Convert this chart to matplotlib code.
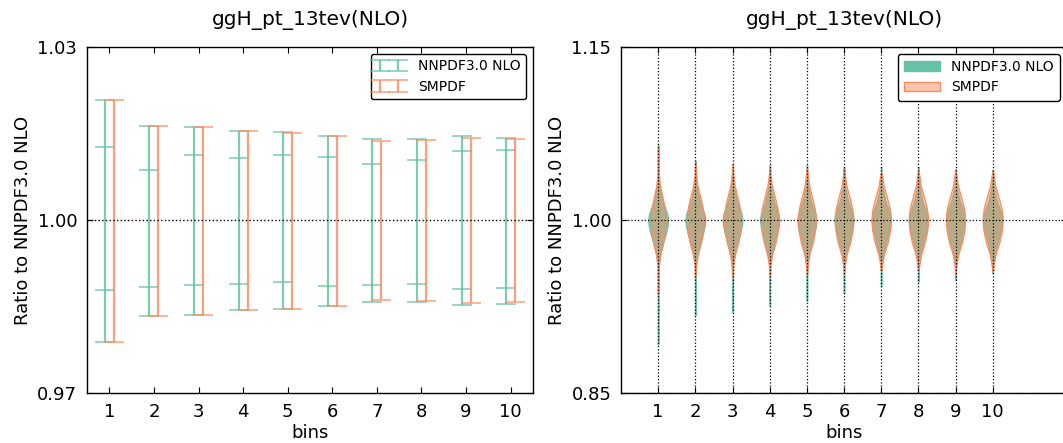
import matplotlib
matplotlib.use("Agg")
import matplotlib.pyplot as plt
from matplotlib.patches import Patch
from matplotlib.legend_handler import HandlerErrorbar
from matplotlib.container import ErrorbarContainer
import numpy as np

plt.rcParams['font.family'] = ['DejaVu Sans']

title = "ggH_pt_13tev(NLO)"
ylabel = "Ratio to NNPDF3.0 NLO"
xlabel = "bins"
labels = ["NNPDF3.0 NLO", "SMPDF"]
bins = [1, 2, 3, 4, 5, 6, 7, 8, 9, 10]

# ---- left panel: error bars ----
nn_lo = [0.9789, 0.98335, 0.98353, 0.98434, 0.98462, 0.98509, 0.98584, 0.98572, 0.98526, 0.98549]
nn_hi = [1.0208, 1.01636, 1.01618, 1.01549, 1.0152, 1.01462, 1.0140, 1.01405, 1.01451, 1.01428]
nn_in_lo = [0.98786, 0.98833, 0.98867, 0.98884, 0.9892, 0.98850, 0.98879, 0.98896, 0.98804, 0.98821]
nn_in_hi = [1.0127, 1.00861, 1.01121, 1.0107, 1.01133, 1.01098, 1.00965, 1.01035, 1.01191, 1.01214]
sm_lo = [0.9789, 0.98335, 0.98353, 0.98434, 0.98462, 0.98509, 0.98607, 0.98595, 0.98555, 0.98578]
sm_hi = [1.0208, 1.01636, 1.0161, 1.0154, 1.0151, 1.0145, 1.01376, 1.01382, 1.01428, 1.01405]

# ---- right panel: violins ----
nn_top = [1.0650, 1.0512, 1.0480, 1.0474, 1.0474, 1.0457, 1.0460, 1.0460, 1.0440, 1.0434]
nn_bot = [0.8925, 0.9176, 0.9205, 0.9257, 0.9300, 0.9364, 0.9428, 0.9465, 0.9480, 0.9538]
sm_top = [1.0630, 1.0492, 1.0486, 1.0462, 1.0448, 1.0448, 1.0405, 1.0419, 1.0434, 1.0419]
sm_bot = [0.9364, 0.9509, 0.9503, 0.9523, 0.9538, 0.9552, 0.9566, 0.9566, 0.9538, 0.9566]
nn_halfw = [0.27, 0.27, 0.27, 0.26, 0.26, 0.26, 0.26, 0.26, 0.26, 0.26]
sm_halfw = [0.20, 0.23, 0.23, 0.24, 0.24, 0.25, 0.26, 0.26, 0.26, 0.27]
prof_levels = [0.04, 0.03, 0.02, 0.015, 0.01, 0.005, 0.0, -0.005, -0.01, -0.015, -0.02, -0.03, -0.04]
nn_prof = [0.03, 0.10, 0.35, 0.50, 0.72, 0.92, 1.0, 0.94, 0.82, 0.66, 0.50, 0.20, 0.05]
sm_prof = [0.08, 0.25, 0.58, 0.74, 0.88, 0.97, 1.0, 0.97, 0.90, 0.78, 0.65, 0.28, 0.08]
tail_w = 0.05

GREEN = '#66c2a5'
ORANGE = '#fc8d62'
ORANGE_RGB = (252 / 255, 141 / 255, 98 / 255)
GREEN_RGB = (102 / 255, 194 / 255, 165 / 255)

fig = plt.figure(figsize=(10.63, 4.43), dpi=100)
W, H = 1063.0, 443.0
ax1 = fig.add_axes([87 / W, 50 / H, 446 / W, 346 / H])
ax2 = fig.add_axes([621 / W, 50 / H, 446 / W, 346 / H])

for ax in (ax1, ax2):
    ax.tick_params(direction='in', top=True, right=True, length=4, width=0.8,
                   labelsize=13, pad=7)
    for s in ax.spines.values():
        s.set_linewidth(1.0)
    ax.set_title(title, fontsize=14.5, pad=16)
    ax.set_ylabel(ylabel, fontsize=13)
    ax.set_xlabel(xlabel, fontsize=13, labelpad=2)
    ax.set_xticks(bins)

# left
x = np.array(bins, dtype=float)
xg = x - 0.1
xo = x + 0.1
nn_lo_a, nn_hi_a = np.array(nn_lo), np.array(nn_hi)
sm_lo_a, sm_hi_a = np.array(sm_lo), np.array(sm_hi)
nn_mid = (nn_lo_a + nn_hi_a) / 2
sm_mid = (sm_lo_a + sm_hi_a) / 2
cap = 7.2
eg = ax1.errorbar(xg, nn_mid, yerr=[nn_mid - nn_lo_a, nn_hi_a - nn_mid], fmt='none',
                  ecolor=GREEN, elinewidth=1.6, capsize=cap, capthick=1.1, alpha=0.85,
                  label=labels[0])
ax1.plot(xg, nn_in_hi, ls='none', marker='_', ms=2 * cap, mew=1.1, color=GREEN, alpha=0.85)
ax1.plot(xg, nn_in_lo, ls='none', marker='_', ms=2 * cap, mew=1.1, color=GREEN, alpha=0.85)
eo = ax1.errorbar(xo, sm_mid, yerr=[sm_mid - sm_lo_a, sm_hi_a - sm_mid], fmt='none',
                  ecolor=ORANGE, elinewidth=1.6, capsize=cap, capthick=1.1, alpha=0.85,
                  label=labels[1])
ax1.axhline(1.0, color='k', ls=':', lw=1.0)
ax1.set_xlim(0.5, 10.5)
ax1.set_ylim(0.97, 1.03)
ax1.set_yticks([0.97, 1.00, 1.03])
ax1.set_yticklabels(["%.2f" % v for v in [0.97, 1.00, 1.03]])
ax1.legend(loc='upper right', numpoints=2, fontsize=10, fancybox=True,
           handlelength=1.9, borderpad=0.4, labelspacing=0.45,
           handletextpad=1.1, edgecolor='k', framealpha=1.0, borderaxespad=0.5,
           handler_map={ErrorbarContainer: HandlerErrorbar(xerr_size=0.5, yerr_size=0.42)})


def build_stats(tops, bots, prof):
    stats = []
    for t, b in zip(tops, bots):
        coords = [b]
        vals = [tail_w]
        for lv, pv in zip(prof_levels[::-1], prof[::-1]):
            c = 1.0 + lv
            if b < c < t:
                coords.append(c)
                vals.append(pv)
        coords.append(t)
        vals.append(tail_w)
        stats.append(dict(coords=np.array(coords), vals=np.array(vals),
                          mean=1.0, median=1.0, min=b, max=t))
    return stats


vg = ax2.violin(build_stats(nn_top, nn_bot, nn_prof), positions=bins,
                widths=[2 * w for w in nn_halfw], showmeans=False,
                showextrema=False, showmedians=False)
for body in vg['bodies']:
    body.set_alpha(None)
    body.set_facecolor(GREEN_RGB + (0.9,))
    body.set_edgecolor(GREEN_RGB + (1.0,))
    body.set_linewidth(0.8)
vo = ax2.violin(build_stats(sm_top, sm_bot, sm_prof), positions=bins,
                widths=[2 * w for w in sm_halfw], showmeans=False,
                showextrema=False, showmedians=False)
for body in vo['bodies']:
    body.set_alpha(None)
    body.set_facecolor(ORANGE_RGB + (0.5,))
    body.set_edgecolor(ORANGE_RGB + (1.0,))
    body.set_linewidth(0.9)

ax2.set_axisbelow(False)
ax2.grid(True, color='k', ls=':', lw=0.9)
ax2.set_xlim(0, 12)
ax2.set_ylim(0.85, 1.15)
ax2.set_yticks([0.85, 1.00, 1.15])
ax2.set_yticklabels(["%.2f" % v for v in [0.85, 1.00, 1.15]])
handles = [Patch(facecolor=GREEN, edgecolor=GREEN),
           Patch(facecolor=ORANGE_RGB + (0.5,), edgecolor=ORANGE)]
leg2 = ax2.legend(handles, labels, loc='upper right', fontsize=10, fancybox=True,
                  handlelength=2.6, borderpad=0.45, labelspacing=0.45, handletextpad=0.8,
                  edgecolor='k', framealpha=1.0, borderaxespad=0.5)
leg2.set_zorder(5)

fig.savefig("out.png", dpi=100)
